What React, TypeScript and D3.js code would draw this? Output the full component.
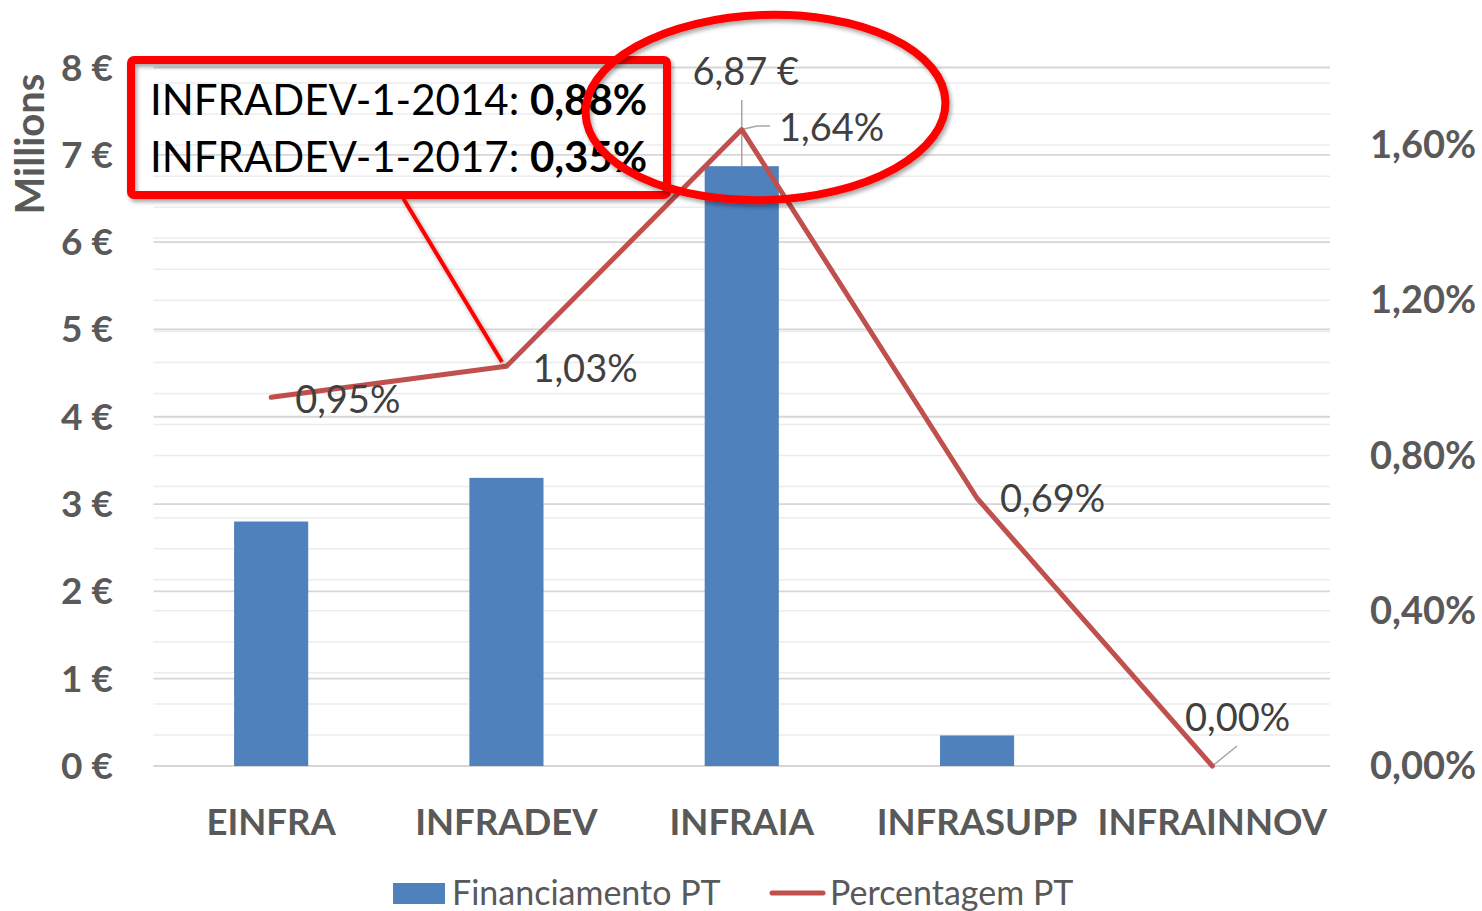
import React from "react";
import * as d3 from "d3";

const categories = ["EINFRA", "INFRADEV", "INFRAIA", "INFRASUPP", "INFRAINNOV"];
const financiamento = [2.8, 3.3, 6.87, 0.35, 0];
const percentagem = [0.0095, 0.0103, 0.0164, 0.0069, 0.0];
const percentLabels = ["0,95%", "1,03%", "1,64%", "0,69%", "0,00%"];
const leftTicks = [0, 1, 2, 3, 4, 5, 6, 7, 8];
const rightTicks = [0, 0.004, 0.008, 0.012, 0.016];
const rightMinor = d3.range(0, 23).map((i) => i * 0.0008);
const annotationLines = [
  { label: "INFRADEV-1-2014: ", value: "0,88%" },
  { label: "INFRADEV-1-2017: ", value: "0,35%" },
];

const W = 1482;
const H = 911;
const FONT = "Lato, 'Open Sans', sans-serif";
const GREY = "#595959";
const BAR = "#4f81bd";
const LINE = "#c0504d";

export default function App() {
  const left = 153.5, right = 1330, y0 = 766, yTop = 67.5;
  const x = d3.scaleBand<string>().domain(categories).range([left, right]).padding(0);
  const yL = d3.scaleLinear().domain([0, 8]).range([y0, yTop]);
  const yR = d3.scaleLinear().domain([0, 0.018]).range([y0, yTop]);
  const bw = x.step() * 0.315;
  const cx = (c: string) => (x(c) as number) + x.bandwidth() / 2;
  const pts: [number, number][] = categories.map((c, i) => [cx(c), yR(percentagem[i])]);
  const line = d3.line();
  const fmtL = (v: number) => `${v} €`;
  const fmtR = (v: number) => (v * 100).toFixed(2).replace(".", ",") + "%";

  return (
    <svg width={W} height={H} style={{ position: "absolute", left: 0, top: 0 }} fontFamily={FONT}>
      <defs>
        <filter id="sh" x="-10%" y="-10%" width="130%" height="130%">
          <feGaussianBlur in="SourceAlpha" stdDeviation="2" />
          <feOffset dx="2" dy="3" result="b" />
          <feComponentTransfer><feFuncA type="linear" slope="0.35" /></feComponentTransfer>
          <feMerge><feMergeNode /><feMergeNode in="SourceGraphic" /></feMerge>
        </filter>
      </defs>
      <rect width={W} height={H} fill="#fff" />
      {rightMinor.filter((v) => v > 0 && v < 0.018).map((v) => (
        <line key={"m" + v} x1={left} x2={right} y1={yR(v)} y2={yR(v)} stroke="#ececec" strokeWidth={1.5} />
      ))}
      {leftTicks.map((v) => (
        <line key={"g" + v} x1={left} x2={right} y1={yL(v)} y2={yL(v)} stroke="#d6d6d6" strokeWidth={1.8} />
      ))}
      {categories.map((c, i) => (
        <rect key={c} x={cx(c) - bw / 2} y={yL(financiamento[i])} width={bw} height={y0 - yL(financiamento[i])} fill={BAR} />
      ))}
      {leftTicks.map((v) => (
        <text key={"l" + v} x={113} y={yL(v) + 13} textAnchor="end" fontSize={37} fontWeight="bold" fill={GREY}>{fmtL(v)}</text>
      ))}
      {rightTicks.map((v) => (
        <text key={"r" + v} x={1370} y={yR(v) + 13} fontSize={38} fontWeight="bold" fill={GREY}>{fmtR(v)}</text>
      ))}
      <text transform="translate(44,144) rotate(-90)" textAnchor="middle" fontSize={40} fontWeight="bold" fill={GREY}>Millions</text>
      {categories.map((c) => (
        <text key={"x" + c} x={cx(c)} y={835} textAnchor="middle" fontSize={36.5} fontWeight="bold" fill={GREY}>{c}</text>
      ))}
      <line x1={cx("INFRAIA")} x2={cx("INFRAIA")} y1={yL(financiamento[2])} y2={100} stroke="#a6a6a6" strokeWidth={1.5} />
      <polyline points={`${pts[2][0]},${pts[2][1]} 757,126 770,126`} fill="none" stroke="#a6a6a6" strokeWidth={1.5} />
      <line x1={pts[4][0]} y1={pts[4][1]} x2={1237} y2={746} stroke="#a6a6a6" strokeWidth={1.5} />
      <path d={line(pts) as string} fill="none" stroke={LINE} strokeWidth={5} strokeLinejoin="round" strokeLinecap="round" />
      <text x={cx("INFRAIA") + 4} y={85} textAnchor="middle" fontSize={38} fill="#404040">6,87 €</text>
      <text x={pts[0][0] + 24} y={pts[0][1] + 16} fontSize={38} fill="#404040">{percentLabels[0]}</text>
      <text x={pts[1][0] + 26} y={pts[1][1] + 16} fontSize={38} fill="#404040">{percentLabels[1]}</text>
      <text x={779} y={141} fontSize={38} fill="#404040">{percentLabels[2]}</text>
      <text x={pts[3][0] + 23} y={pts[3][1] + 14} fontSize={38} fill="#404040">{percentLabels[3]}</text>
      <text x={1185} y={731} fontSize={38} fill="#404040">{percentLabels[4]}</text>
      <g filter="url(#sh)">
        <rect x={131} y={60} width={536} height={135} rx={3} fill="none" stroke="#ff0000" strokeWidth={8} />
        <line x1={403} y1={198} x2={502} y2={362} stroke="#ff0000" strokeWidth={4} />
      </g>
      {annotationLines.map((a, i) => (
        <text key={a.label} x={150} y={115 + i * 57} fontSize={42} fill="#000">
          {a.label}
          <tspan fontWeight="bold">{a.value}</tspan>
        </text>
      ))}
      <g filter="url(#sh)">
        <ellipse cx={765.5} cy={107.5} rx={180} ry={92.5} transform="rotate(-2 765.5 107.5)" fill="none" stroke="#ff0000" strokeWidth={8} />
      </g>
      <rect x={393} y={883} width={52} height={21} fill={BAR} />
      <text x={452} y={905} fontSize={34} fill={GREY}>Financiamento PT</text>
      <line x1={772} x2={823} y1={893} y2={893} stroke={LINE} strokeWidth={5} strokeLinecap="round" />
      <text x={830} y={905} fontSize={34} fill={GREY}>Percentagem PT</text>
    </svg>
  );
}
